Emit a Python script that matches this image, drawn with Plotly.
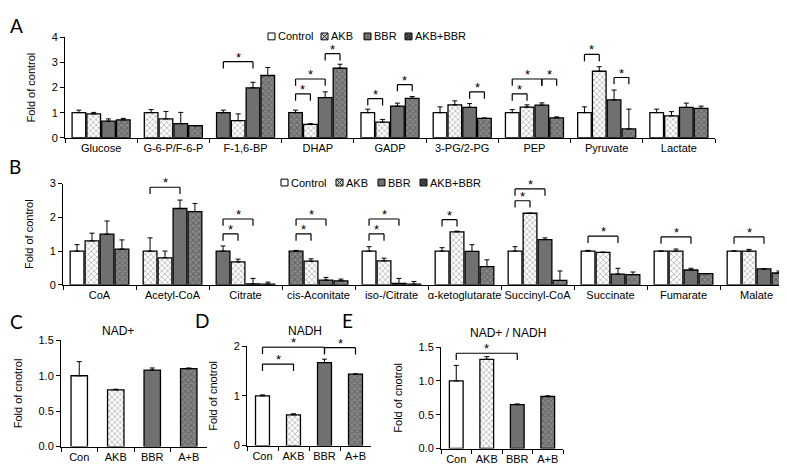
import plotly.graph_objects as go

# ---------------- data ----------------
groups = ["Control", "AKB", "BBR", "AKB+BBR"]

cats_A = ["Glucose", "G-6-P/F-6-P", "F-1,6-BP", "DHAP", "GADP", "3-PG/2-PG", "PEP", "Pyruvate", "Lactate"]
A_control = [1.00, 1.00, 1.00, 1.00, 1.00, 1.00, 1.00, 1.00, 1.00]
A_control_err = [0.10, 0.12, 0.10, 0.10, 0.14, 0.23, 0.12, 0.23, 0.14]
A_akb = [0.95, 0.75, 0.68, 0.53, 0.62, 1.31, 1.22, 2.65, 0.87]
A_akb_err = [0.06, 0.30, 0.27, 0.03, 0.11, 0.16, 0.09, 0.18, 0.17]
A_bbr = [0.66, 0.56, 1.99, 1.60, 1.26, 1.21, 1.30, 1.51, 1.21]
A_bbr_err = [0.09, 0.45, 0.22, 0.23, 0.12, 0.15, 0.09, 0.39, 0.17]
A_ab = [0.71, 0.48, 2.48, 2.77, 1.57, 0.77, 0.79, 0.35, 1.17]
A_ab_err = [0.06, 0.00, 0.32, 0.16, 0.07, 0.02, 0.04, 0.79, 0.09]
# significance: (category index, bar i, bar j, bracket height)
A_sig = [(2, 0, 2, 3.03), (3, 0, 1, 1.75), (3, 0, 2, 2.34), (3, 2, 3, 3.35),
         (4, 0, 1, 1.56), (4, 2, 3, 2.12), (5, 2, 3, 1.83), (6, 0, 1, 1.75),
         (6, 0, 2, 2.34), (6, 2, 3, 2.34), (7, 0, 1, 3.32), (7, 2, 3, 2.40)]

cats_B = ["CoA", "Acetyl-CoA", "Citrate", "cis-Aconitate", "iso-/Citrate", "α-ketoglutarate",
          "Succinyl-CoA", "Succinate", "Fumarate", "Malate"]
B_control = [1.00, 1.00, 1.00, 1.00, 1.00, 1.00, 1.00, 1.00, 1.00, 1.00]
B_control_err = [0.19, 0.39, 0.15, 0.02, 0.13, 0.10, 0.13, 0.02, 0.00, 0.00]
B_akb = [1.30, 0.80, 0.68, 0.70, 0.71, 1.57, 2.12, 0.96, 1.00, 1.00]
B_akb_err = [0.23, 0.20, 0.08, 0.07, 0.08, 0.02, 0.00, 0.01, 0.06, 0.05]
B_bbr = [1.50, 2.26, 0.03, 0.14, 0.04, 0.99, 1.34, 0.32, 0.44, 0.47]
B_bbr_err = [0.39, 0.25, 0.16, 0.08, 0.15, 0.20, 0.05, 0.17, 0.05, 0.00]
B_ab = [1.06, 2.17, 0.02, 0.12, 0.02, 0.54, 0.13, 0.30, 0.33, 0.35]
B_ab_err = [0.27, 0.24, 0.06, 0.05, 0.08, 0.20, 0.28, 0.08, 0.00, 0.06]
B_sig = [(1, 0, 2, 2.89), (2, 0, 1, 1.51), (2, 0, 2, 1.95), (3, 0, 1, 1.51), (3, 0, 2, 1.95),
         (4, 0, 1, 1.51), (4, 0, 2, 1.95), (5, 0, 1, 1.93), (6, 0, 1, 2.49), (6, 0, 2, 2.84),
         (7, 0, 2, 1.44), (8, 0, 2, 1.42), (9, 0, 2, 1.42)]

cats_small = ["Con", "AKB", "BBR", "A+B"]
C_vals = [1.00, 0.80, 1.08, 1.10]
C_err = [0.20, 0.01, 0.03, 0.01]
D_vals = [1.00, 0.62, 1.67, 1.44]
D_err = [0.02, 0.02, 0.07, 0.00]
D_sig = [(0, 1, 1.64), (0, 2, 1.98), (2, 3, 1.97)]
E_vals = [1.00, 1.32, 0.65, 0.77]
E_err = [0.23, 0.04, 0.01, 0.01]
E_sig = [(0, 2, 1.41)]

# ---------------- styles ----------------
A_ctrl_style = ["ctrl", "akb", "bbr", "ab", "ctrl", "ctrl", "ctrl", "ctrl", "ctrl"]
B_ctrl_style = ["ctrl", "akb", "bbr", "ab", "ctrl", "ctrl", "ctrl", "ctrl", "ctrl", "ctrl"]
group_style = ["ctrl", "akb", "bbr", "ab"]

STY = {
    "ctrl": dict(color="white", shape="", fg="white", sol=0.3),
    "akb": dict(color="white", shape="x", fg="#5a5a5a", sol=0.3),
    "bbr": dict(color="#707070", shape="", fg="#707070", sol=0.3),
    "ab": dict(color="#8a8a8a", shape="x", fg="#2a2a2a", sol=0.5),
}
FONT = "Liberation Sans, Arial, sans-serif"
W, H = 787, 466


def marker_for(styles):
    return dict(
        color=[STY[s]["color"] for s in styles],
        line=dict(color="black", width=1.3),
        pattern=dict(shape=[STY[s]["shape"] for s in styles],
                     fgcolor=[STY[s]["fg"] for s in styles],
                     solidity=[STY[s]["sol"] for s in styles],
                     size=4, fillmode="overlay"),
    )


def err(e):
    return dict(type="data", symmetric=False, array=e, arrayminus=[0] * len(e),
                color="black", thickness=1, width=2.5)


fig = go.Figure()

BARGAP = 0.18
BGG = 0.08

panel_big = [
    ("x", "y", cats_A, [A_control, A_akb, A_bbr, A_ab],
     [A_control_err, A_akb_err, A_bbr_err, A_ab_err], A_ctrl_style),
    ("x2", "y2", cats_B, [B_control, B_akb, B_bbr, B_ab],
     [B_control_err, B_akb_err, B_bbr_err, B_ab_err], B_ctrl_style),
]
for xa, ya, cats, series, errs, ctrl_style in panel_big:
    for gi, g in enumerate(groups):
        styles = ctrl_style if gi == 0 else [group_style[gi]] * len(cats)
        fig.add_trace(go.Bar(
            x=cats, y=series[gi], name=g, xaxis=xa, yaxis=ya, showlegend=False,
            marker=marker_for(styles), error_y=err(errs[gi]),
        ))

for xa, ya, vals, e in [("x3", "y3", C_vals, C_err), ("x4", "y4", D_vals, D_err),
                        ("x5", "y5", E_vals, E_err)]:
    fig.add_trace(go.Bar(x=cats_small, y=vals, xaxis=xa, yaxis=ya, showlegend=False,
                         width=0.45, marker=marker_for(group_style), error_y=err(e)))

# ---------------- axes (pixel boxes) ----------------
boxes = {  # name: (x0, x1, ytop, ybottom, ymax, dtick, fmt, title)
    "": (57, 707, 24, 127, 4, 1, "d", "Fold of control"),
    "2": (55, 785, 174, 278, 3, 1, "d", "Fold of control"),
    "3": (53, 199, 335, 444, 1.5, 0.5, ".1f", "Fold of cnotrol"),
    "4": (239, 363, 341, 443, 2, 1, "d", "Fold of cnotrol"),
    "5": (433, 555, 342, 446, 1.5, 0.5, ".1f", "Fold of cnotrol"),
}
layout_axes = {}
for k, (x0, x1, yt, yb, ymax, dt, fmt, title) in boxes.items():
    layout_axes["xaxis" + k] = dict(
        domain=[x0 / W, x1 / W], anchor="y" + k, type="category", tickson="boundaries",
        ticks="outside", ticklen=4, tickcolor="black", showline=True, linecolor="black",
        linewidth=1, showgrid=False, tickangle=0,
        tickfont=dict(size=11, color="black", family=FONT), fixedrange=True)
    layout_axes["yaxis" + k] = dict(
        domain=[1 - yb / H, 1 - yt / H], anchor="x" + k, range=[0, ymax], dtick=dt,
        tickformat=fmt, ticks="outside", ticklen=4, tickcolor="black", showline=True,
        linecolor="black", linewidth=1, showgrid=False, zeroline=False,
        tickfont=dict(size=11, color="black", family=FONT),
        title=dict(text=title, font=dict(size=11, color="black", family=FONT), standoff=13))

shapes = []
annotations = []


def bracket(xa, ya, xl, xr, h, ymax, pxh):
    d = 7 * ymax / pxh
    ln = dict(color="black", width=1.2)
    for (a0, b0, a1, b1) in [(xl, h - d, xl, h), (xl, h, xr, h), (xr, h, xr, h - d)]:
        shapes.append(dict(type="line", xref=xa, yref=ya, x0=a0, y0=b0, x1=a1, y1=b1, line=ln))
    annotations.append(dict(x=(xl + xr) / 2, y=h, xref=xa, yref=ya, text="*", showarrow=False,
                            yanchor="bottom", yshift=-5,
                            font=dict(size=13, color="black", family=FONT)))


slot = (1 - BARGAP) / 4
for k, sig in [("", A_sig), ("2", B_sig)]:
    x0, x1, yt, yb, ymax = boxes[k][:5]
    for (c, i, j, h) in sig:
        xl = c - (1 - BARGAP) / 2 + (i + 0.5) * slot
        xr = c - (1 - BARGAP) / 2 + (j + 0.5) * slot
        bracket("x" + k, "y" + k, xl, xr, h, ymax, yb - yt)
for k, sig in [("4", D_sig), ("5", E_sig)]:
    x0, x1, yt, yb, ymax = boxes[k][:5]
    for (i, j, h) in sig:
        bracket("x" + k, "y" + k, i, j, h, ymax, yb - yt)

# ---------------- compact legends (swatch + label) ----------------
legend_swatch = {"ctrl": "white", "akb": "#d0d0d0", "bbr": "#707070", "ab": "#505050"}
for lx_list, ly in [([260, 313, 356, 397], 23), ([273, 328, 370, 412], 173)]:
    for g, s, lx in zip(groups, group_style, lx_list):
        y0p, y1p = 1 - (ly + 3.5) / H, 1 - (ly - 3.5) / H
        x0p, x1p = lx / W, (lx + 7) / W
        shapes.append(dict(type="rect", xref="paper", yref="paper", x0=x0p, x1=x1p,
                           y0=y0p, y1=y1p, fillcolor=legend_swatch[s],
                           line=dict(color="black", width=1)))
        if STY[s]["shape"]:
            for (a0, b0, a1, b1) in [(x0p, y0p, x1p, y1p), (x0p, y1p, x1p, y0p)]:
                shapes.append(dict(type="line", xref="paper", yref="paper", x0=a0, y0=b0,
                                   x1=a1, y1=b1, line=dict(color="#222222", width=1)))
        annotations.append(dict(x=(lx + 8) / W, y=1 - ly / H, xref="paper", yref="paper",
                                text=g, showarrow=False, xanchor="left", yanchor="middle",
                                font=dict(size=11, color="black", family=FONT)))

# panel letters and titles
for txt, px, py in [("A", 8, 12), ("B", 7, 157), ("C", 8, 316), ("D", 194, 315), ("E", 339, 315)]:
    annotations.append(dict(x=px / W, y=1 - py / H, xref="paper", yref="paper", text=txt,
                            showarrow=False, xanchor="center", yanchor="middle",
                            font=dict(size=19, color="black", family="Lato, Open Sans, sans-serif")))
for txt, px, py in [("NAD+", 110, 325), ("NADH", 297, 325), ("NAD+ / NADH", 500, 327)]:
    annotations.append(dict(x=px / W, y=1 - py / H, xref="paper", yref="paper", text=txt,
                            showarrow=False, xanchor="center", yanchor="middle",
                            font=dict(size=12, color="black", family=FONT)))

fig.update_layout(
    width=W, height=H, margin=dict(l=0, r=0, t=0, b=0),
    paper_bgcolor="white", plot_bgcolor="white",
    barmode="group", bargap=BARGAP, bargroupgap=BGG,
    font=dict(family=FONT, color="black"), showlegend=False,
    shapes=shapes, annotations=annotations,
    **layout_axes,
)

fig.write_html("out.html")
